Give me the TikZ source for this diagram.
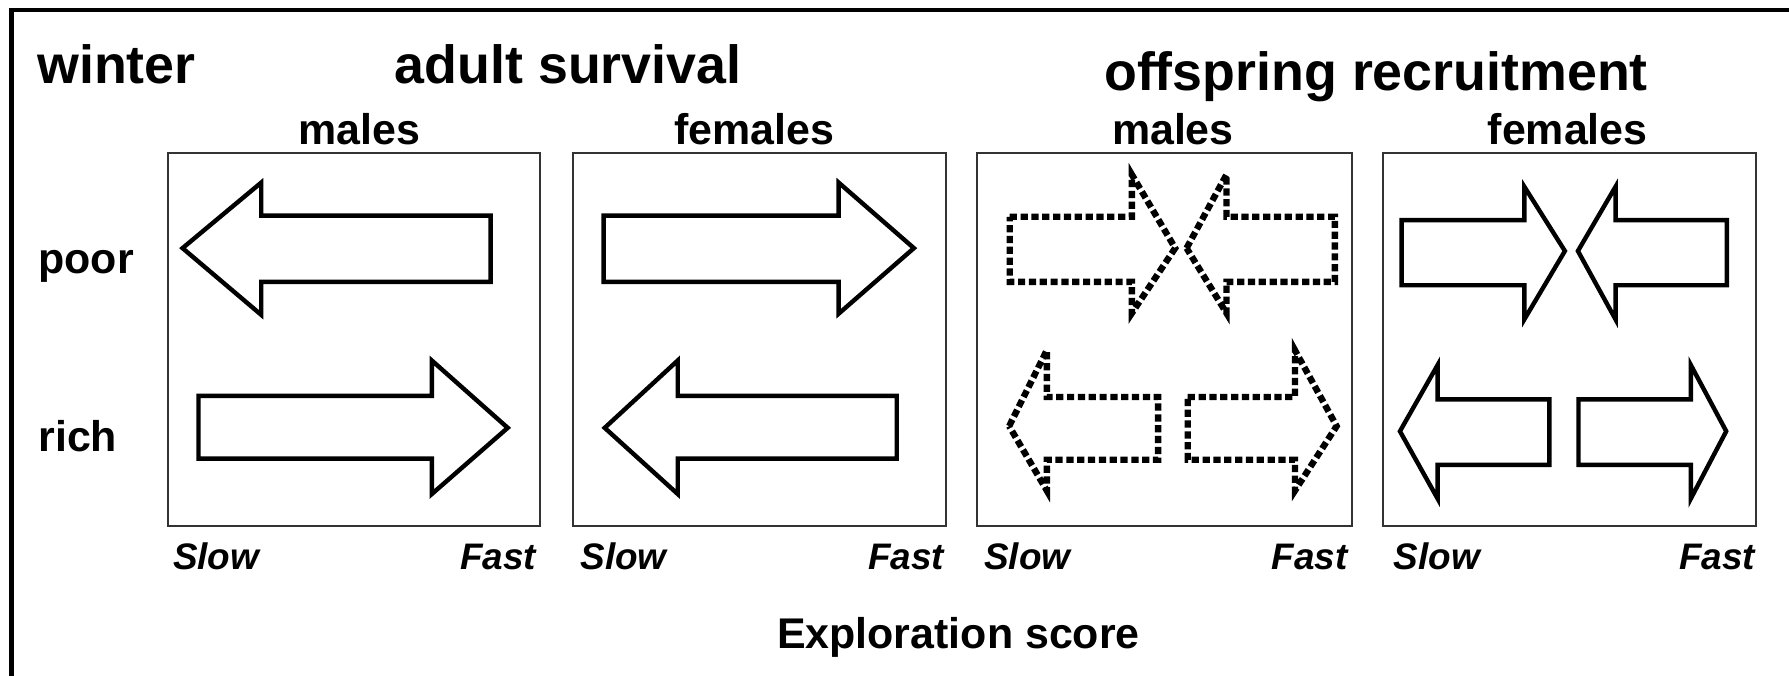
\documentclass[tikz,border=0pt]{standalone}
\usepackage{fontspec}
\setmainfont{Liberation Sans}
\begin{document}
\begin{tikzpicture}[x=0.01cm,y=-0.01cm,
  panel/.style={draw=black!80, line width=0.5pt, inner sep=0, outer sep=0},
  solidarrow/.style={draw=black, line width=1.1pt, line join=miter},
  dotarrow/.style={draw=black, line width=1.6pt, dash pattern=on 1.8pt off 0.9pt},
  frame/.style={draw=black, line width=1.1pt},
  headlbl/.style={font=\fontsize{13.4}{15}\selectfont\bfseries, inner sep=0},
  sublbl/.style={font=\fontsize{10.7}{12}\selectfont\bfseries, inner sep=0},
  axislbl/.style={font=\fontsize{9.2}{11}\selectfont\bfseries\itshape, inner sep=0}]
\useasboundingbox (0,0) rectangle (1568,592);
\clip (0,0) rectangle (1568,592);
% outer frame (only left and top edges visible)
\draw[frame] (10,620) -- (10,9) -- (1600,9);
% headings
\node[headlbl, anchor=base west] (winter) at (32,73) {winter};
\node[headlbl, anchor=base] (adult) at (498,73) {adult survival};
\node[headlbl, anchor=base] (offspring) at (1206,79) {offspring recruitment};
% panels
\node[panel, minimum width=3.26cm, minimum height=3.27cm] (p1) at (310,297.5) {};
\node[panel, minimum width=3.27cm, minimum height=3.27cm] (p2) at (665.5,297.5) {};
\node[panel, minimum width=3.29cm, minimum height=3.27cm] (p3) at (1020.5,297.5) {};
\node[panel, minimum width=3.27cm, minimum height=3.27cm] (p4) at (1375.5,297.5) {};
% sex labels
\node[sublbl, anchor=base] (m1) at (315,127) {males};
\node[sublbl, anchor=base] (f1) at (661,127) {females};
\node[sublbl, anchor=base] (m2) at (1028,127) {males};
\node[sublbl, anchor=base] (f2) at (1374,127) {females};
% row labels
\node[sublbl, anchor=base west] (poor) at (33,240) {poor};
\node[sublbl, anchor=base west] (rich) at (33,396) {rich};
% axis labels
\node[axislbl, anchor=base west] (s1) at (151,499) {Slow};
\node[axislbl, anchor=base east] (fa1) at (470.5,499) {Fast};
\node[axislbl, anchor=base west] (s2) at (508,499) {Slow};
\node[axislbl, anchor=base east] (fa2) at (828,499) {Fast};
\node[axislbl, anchor=base west] (s3) at (862,499) {Slow};
\node[axislbl, anchor=base east] (fa3) at (1182,499) {Fast};
\node[axislbl, anchor=base west] (s4) at (1221,499) {Slow};
\node[axislbl, anchor=base east] (fa4) at (1539,499) {Fast};
\node[sublbl, anchor=base] (expl) at (840,568) {Exploration score};
% panel 1 arrows
\draw[solidarrow] (160,217.5) -- (229,160) -- (229,189) -- (430,189) -- (430,247) -- (229,247) -- (229,276) -- cycle;
\draw[solidarrow] (174,347) -- (378.5,347) -- (378.5,316) -- (445,375) -- (378.5,433) -- (378.5,402) -- (174,402) -- cycle;
% panel 2 arrows
\draw[solidarrow] (529,189) -- (735,189) -- (735,160) -- (801,217.5) -- (735,275) -- (735,247) -- (529,247) -- cycle;
\draw[solidarrow] (530,375) -- (594,316) -- (594,347) -- (786,347) -- (786,402) -- (594,402) -- (594,433) -- cycle;
% panel 3 arrows (dotted)
\draw[dotarrow] (885,190) -- (992,190) -- (992,153) -- (1030,217.5) -- (992,274.5) -- (992,247) -- (885,247) -- cycle;
\draw[dotarrow] (1040,217.5) -- (1075,153) -- (1075,190) -- (1170,190) -- (1170,247) -- (1075,247) -- (1075,274.5) -- cycle;
\draw[dotarrow] (884.5,373.5) -- (917.5,307) -- (917.5,348) -- (1015,348) -- (1015,403) -- (917.5,403) -- (917.5,430) -- cycle;
\draw[dotarrow] (1041,348) -- (1135,348) -- (1135,307) -- (1171.5,373.5) -- (1135,430) -- (1135,403) -- (1041,403) -- cycle;
% panel 4 arrows
\draw[solidarrow] (1228.5,193) -- (1336,193) -- (1336,163.6) -- (1371.6,220) -- (1336,280) -- (1336,250) -- (1228.5,250) -- cycle;
\draw[solidarrow] (1383,220) -- (1416,163.6) -- (1416,193) -- (1513.5,193) -- (1513.5,250) -- (1416,250) -- (1416,280) -- cycle;
\draw[solidarrow] (1227,378) -- (1260,320) -- (1260,350) -- (1358,350) -- (1358,407.5) -- (1260,407.5) -- (1260,437) -- cycle;
\draw[solidarrow] (1383.5,350) -- (1482,350) -- (1482,320) -- (1513,378) -- (1482,437) -- (1482,407.5) -- (1383.5,407.5) -- cycle;
\end{tikzpicture}
\end{document}
